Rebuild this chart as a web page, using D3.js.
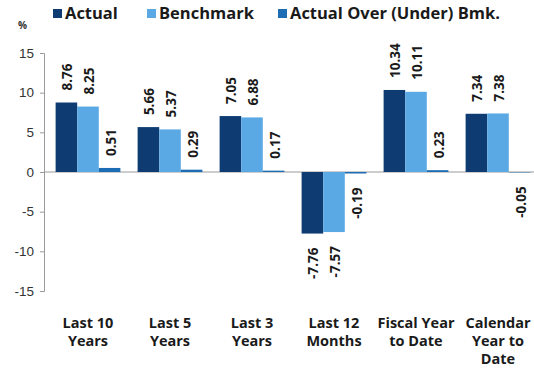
<!DOCTYPE html>
<html>
<head>
<meta charset="utf-8">
<script src="https://cdn.jsdelivr.net/npm/d3@7"></script>
<style>
  html, body { margin: 0; padding: 0; background: #fff; }
  svg { display: block; font-family: "Open Sans", "Noto Sans", sans-serif; }
</style>
</head>
<body>
<svg id="chart" width="534" height="379"></svg>
<script>
// Return periods shown along the x axis (each split over lines)
const categories = [
  ["Last 10", "Years"],
  ["Last 5", "Years"],
  ["Last 3", "Years"],
  ["Last 12", "Months"],
  ["Fiscal Year", "to Date"],
  ["Calendar", "Year to", "Date"]
];
const seriesNames = ["Actual", "Benchmark", "Actual Over (Under) Bmk."];
const actual    = [8.76, 5.66, 7.05, -7.76, 10.34, 7.34];
const benchmark = [8.25, 5.37, 6.88, -7.57, 10.11, 7.38];
const overUnder = [0.51, 0.29, 0.17, -0.19, 0.23, -0.05];
const yTicks = [15, 10, 5, 0, -5, -10, -15];

const colors = ["#0e3b72", "#5ba9e4", "#1c6db3"];
const series = [actual, benchmark, overUnder];

const svg = d3.select("#chart");
const axisX = 44;
const plotTop = 53, plotBottom = 291;

const y = d3.scaleLinear().domain([-15, 15]).range([plotBottom, plotTop]);
const x0 = d3.scaleBand().domain(d3.range(categories.length)).range([47, 539]).paddingInner(0.21).paddingOuter(0.105);
const x1 = d3.scaleBand().domain(d3.range(series.length)).range([0, x0.bandwidth()]);

// Y axis (plain hyphen for negatives)
const yAxis = d3.axisLeft(y).tickValues(yTicks).tickSize(4).tickPadding(6).tickFormat(d => String(d));
const gy = svg.append("g").attr("transform", `translate(${axisX},0)`).call(yAxis);
gy.select(".domain").attr("stroke", "#9a9a9a");
gy.selectAll(".tick line").attr("stroke", "#9a9a9a");
gy.selectAll(".tick text").attr("fill", "#333").attr("font-size", 13.5);

// Zero baseline
svg.append("line")
  .attr("x1", axisX).attr("x2", 534)
  .attr("y1", y(0)).attr("y2", y(0))
  .attr("stroke", "#9a9a9a").attr("stroke-width", 1);

// Bars
const groups = svg.append("g").selectAll("g")
  .data(categories.map((c, i) => i))
  .join("g")
  .attr("transform", i => `translate(${x0(i)},0)`);

groups.selectAll("rect")
  .data(i => series.map((s, k) => ({ k, v: s[i] })))
  .join("rect")
  .attr("x", d => x1(d.k))
  .attr("width", x1.bandwidth())
  .attr("y", d => y(Math.max(0, d.v)))
  .attr("height", d => Math.abs(y(d.v) - y(0)))
  .attr("fill", d => colors[d.k]);

// Rotated value labels
groups.selectAll("text.val")
  .data(i => series.map((s, k) => ({ k, v: s[i] })))
  .join("text")
  .attr("class", "val")
  .attr("font-size", 13.5)
  .attr("font-weight", "bold")
  .attr("fill", "#1a1a1a")
  .attr("dominant-baseline", "central")
  .attr("text-anchor", d => d.v >= 0 ? "start" : "end")
  .attr("transform", d => {
    const cx = x1(d.k) + x1.bandwidth() / 2 + 1;
    const cy = d.v >= 0 ? y(d.v) - 12 : y(d.v) + 14;
    return `translate(${cx},${cy}) rotate(-90)`;
  })
  .text(d => d.v.toFixed(2));

// Category labels
const catLabels = svg.append("g").selectAll("text")
  .data(categories)
  .join("text")
  .attr("x", (c, i) => x0(i) + x0.bandwidth() / 2)
  .attr("y", 328)
  .attr("text-anchor", "middle")
  .attr("font-size", 14.5)
  .attr("font-weight", "bold")
  .attr("fill", "#1a1a1a");
catLabels.selectAll("tspan")
  .data(c => c)
  .join("tspan")
  .attr("x", function () { return this.parentNode.getAttribute("x"); })
  .attr("dy", (t, j) => j === 0 ? 0 : 18)
  .text(t => t);

// Unit label
svg.append("text").attr("x", 18).attr("y", 29)
  .attr("font-size", 10).attr("font-weight", "bold").attr("fill", "#333").text("%");

// Legend
const legendX = [53, 147, 278];
const legend = svg.append("g").selectAll("g")
  .data(seriesNames)
  .join("g")
  .attr("transform", (d, i) => `translate(${legendX[i]},0)`);
legend.append("rect").attr("x", 0).attr("y", 9).attr("width", 9).attr("height", 9)
  .attr("fill", (d, i) => colors[i]);
legend.append("text").attr("x", 12).attr("y", 18.5)
  .attr("font-size", 16.5).attr("font-weight", "bold").attr("fill", "#1a1a1a")
  .text(d => d);
</script>
</body>
</html>
